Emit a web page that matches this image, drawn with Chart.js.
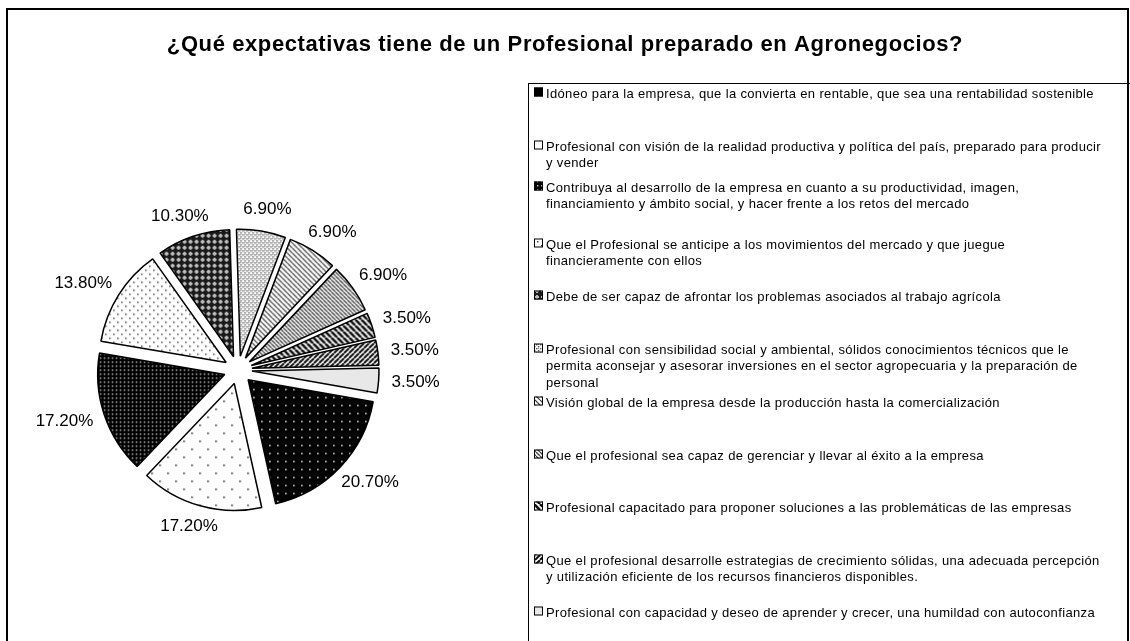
<!DOCTYPE html>
<html><head><meta charset="utf-8">
<script src="https://cdn.jsdelivr.net/npm/chart.js@4/dist/chart.umd.min.js"></script>
<style>html,body{margin:0;padding:0;background:#fff;overflow:hidden}</style>
</head><body>
<canvas id="c" width="1130" height="641"></canvas>
<script>
// ---------- data ----------
const chartTitle = '¿Qué expectativas tiene de un Profesional preparado en Agronegocios?';
const categories = [
  ['Idóneo para la empresa, que la convierta en rentable, que sea una rentabilidad sostenible'],
  ['Profesional con visión de la realidad productiva y política del país, preparado para producir', 'y vender'],
  ['Contribuya al desarrollo de la empresa en cuanto a su productividad, imagen,', 'financiamiento y ámbito social, y hacer frente a los retos del mercado'],
  ['Que el Profesional se anticipe a los movimientos del mercado y que juegue', 'financieramente con ellos'],
  ['Debe de ser capaz de afrontar los problemas asociados al trabajo agrícola'],
  ['Profesional con sensibilidad social y ambiental, sólidos conocimientos técnicos que le', 'permita aconsejar y asesorar inversiones en el sector agropecuaria y la preparación de', 'personal'],
  ['Visión global de la empresa desde la producción hasta la comercialización'],
  ['Que el profesional sea capaz de gerenciar y llevar al éxito a la empresa'],
  ['Profesional capacitado para proponer soluciones a las problemáticas de las empresas'],
  ['Que el profesional desarrolle estrategias de crecimiento sólidas, una adecuada percepción', 'y utilización eficiente de los recursos financieros disponibles.'],
  ['Profesional con capacidad y deseo de aprender y crecer, una humildad con autoconfianza']
];
const percentages = [20.7, 17.2, 17.2, 13.8, 10.3, 6.9, 6.9, 6.9, 3.5, 3.5, 3.5];
const percentLabels = percentages.map(v => v.toFixed(2) + '%');

// ---------- styles ----------
const explodeOffset = 14;
const mainCtx = document.getElementById('c').getContext('2d');
function makePattern(size, draw) {
  const c = document.createElement('canvas');
  c.width = size; c.height = size;
  const g = c.getContext('2d');
  draw(g, size);
  return mainCtx.createPattern(c, 'repeat');
}
function dots(bg, fg, size, pts, d) {
  return makePattern(size, (g, s) => {
    g.fillStyle = bg; g.fillRect(0, 0, s, s);
    g.fillStyle = fg;
    pts.forEach(p => g.fillRect(p[0], p[1], d, d));
  });
}
function stripes(bg, fg, size, w, dir) {
  return makePattern(size, (g, s) => {
    g.fillStyle = bg; g.fillRect(0, 0, s, s);
    g.strokeStyle = fg; g.lineWidth = w;
    for (let k = -1; k <= 1; k++) {
      g.beginPath();
      if (dir === '\\') { g.moveTo(k * s, 0); g.lineTo(k * s + s, s); }
      else { g.moveTo(k * s, s); g.lineTo(k * s + s, 0); }
      g.stroke();
    }
  });
}
const fills = [
  dots('#000', '#d8d8d8', 8, [[3, 3]], 1.6),
  dots('#fff', '#333', 16, [[3, 3], [11, 11]], 1.6),
  dots('#000', '#cfcfcf', 4, [[1, 1]], 1.4),
  dots('#fff', '#333', 8, [[1, 1], [5, 5]], 1.4),
  makePattern(6, (g, s) => { g.fillStyle = '#1a1a1a'; g.fillRect(0, 0, s, s); g.fillStyle = '#bbb';
    g.fillRect(2, 1, 2, 4); g.fillRect(1, 2, 4, 2); }),
  makePattern(4, (g, s) => { g.fillStyle = '#fff'; g.fillRect(0, 0, s, s); g.fillStyle = '#555';
    g.fillRect(0, 0, 1.4, 1.4); g.fillRect(2, 2, 1.4, 1.4); g.fillRect(2, 0, 0.8, 0.8); }),
  stripes('#fff', '#333', 5, 1.2, '\\'),
  stripes('#fff', '#444', 4, 1.3, '\\'),
  stripes('#fff', '#111', 6, 2.6, '\\'),
  stripes('#fff', '#111', 5, 2.0, '/'),
  '#e8e8e8'
];
const legendFills = ['#000'].concat(fills.slice(1));
const legendLineY = [94, 147, 188, 245, 297, 350, 403, 456, 508, 561, 613];

const decorPlugin = {
  id: 'decor',
  beforeDatasetDraw(chart, args) {
    const ctx = chart.ctx;
    args.meta.data.forEach(arc => {
      const p = arc.getProps(['startAngle', 'endAngle'], true);
      const mid = (p.startAngle + p.endAngle) / 2;
      ctx.save();
      ctx.translate(Math.cos(mid) * explodeOffset, Math.sin(mid) * explodeOffset);
      arc.draw(ctx, chart.chartArea);
      ctx.restore();
    });
    return false;
  },
  afterDatasetsDraw(chart) {
    const ctx = chart.ctx;
    const meta = chart.getDatasetMeta(0);
    ctx.save();
    ctx.font = '17px "Liberation Sans", Arial, sans-serif';
    ctx.fillStyle = '#000';
    ctx.textAlign = 'center';
    ctx.textBaseline = 'middle';
    meta.data.forEach((arc, i) => {
      const p = arc.getProps(['x', 'y', 'startAngle', 'endAngle', 'outerRadius'], true);
      const mid = (p.startAngle + p.endAngle) / 2;
      const R = p.outerRadius + explodeOffset + 13;
      const txt = percentLabels[i];
      const w = ctx.measureText(txt).width;
      const h = 17;
      const cx = p.x + Math.cos(mid) * R + Math.cos(mid) * w / 2;
      const cy = p.y + Math.sin(mid) * R + Math.sin(mid) * h / 2;
      ctx.fillText(txt, cx, cy);
    });
    ctx.restore();
  },
  afterDraw(chart) {
    const ctx = chart.ctx;
    ctx.save();
    // outer border
    ctx.strokeStyle = '#000';
    ctx.lineWidth = 2;
    ctx.strokeRect(7, 9, 1121, 700);
    // title
    ctx.fillStyle = '#000';
    ctx.font = 'bold 22px "Liberation Sans", Arial, sans-serif';
    ctx.letterSpacing = '0.6px';
    ctx.textAlign = 'center';
    ctx.textBaseline = 'middle';
    ctx.fillText(chartTitle, 565, 45);
    // legend box
    ctx.lineWidth = 1;
    ctx.strokeRect(528.5, 83.5, 620, 600);
    ctx.beginPath();
    ctx.rect(529, 84, 599, 600);
    ctx.clip();
    ctx.font = '13px "Liberation Sans", Arial, sans-serif';
    ctx.letterSpacing = '0.35px';
    ctx.textAlign = 'left';
    categories.forEach((lines, i) => {
      const y0 = legendLineY[i];
      ctx.fillStyle = legendFills[i];
      ctx.fillRect(534, y0 - 6.5, 9, 9);
      ctx.strokeStyle = '#000';
      ctx.lineWidth = 1;
      ctx.strokeRect(534.5, y0 - 6, 8, 8);
      ctx.fillStyle = '#000';
      lines.forEach((ln, j) => ctx.fillText(ln, 546, y0 + j * 16.5));
    });
    ctx.restore();
  }
};

new Chart(document.getElementById('c'), {
  type: 'pie',
  data: {
    labels: categories,
    datasets: [{
      data: percentages,
      backgroundColor: fills,
      borderColor: '#000',
      borderWidth: 1.5
    }]
  },
  options: {
    responsive: false,
    animation: false,
    devicePixelRatio: 1,
    rotation: 100,
    radius: 127,
    layout: { padding: { left: 0, right: 654, top: 200, bottom: 101 } },
    plugins: { legend: { display: false }, title: { display: false }, tooltip: { enabled: false } },
    events: []
  },
  plugins: [decorPlugin]
});
</script>
</body></html>
